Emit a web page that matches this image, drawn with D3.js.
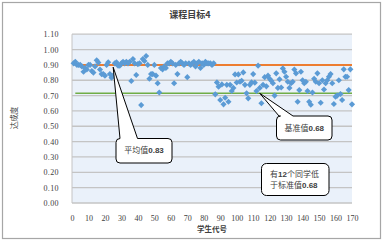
<!DOCTYPE html>
<html><head><meta charset="utf-8">
<script src="https://cdn.jsdelivr.net/npm/d3@7"></script>
<style>
html,body{margin:0;padding:0;background:#fff;}
svg{display:block;}
</style></head>
<body>
<svg id="c" width="383" height="242"></svg>
<script>
// ---- data ----
const title = "课程目标4";
const xTitle = "学生代号";
const yTitle = "达成度";
const students = d3.range(1, 171);
const scores = [
0.91,0.92,0.90,0.90,0.90,0.89,0.855,0.88,0.87,0.90,
0.90,0.86,0.85,0.89,0.93,0.915,0.87,0.84,0.84,0.83,
0.90,0.917,0.84,0.816,0.83,0.91,0.917,0.895,0.895,0.91,
0.92,0.91,0.92,0.91,0.92,0.795,0.938,0.91,0.834,0.905,
0.91,0.638,0.938,0.925,0.958,0.90,0.81,0.84,0.84,0.90,
0.83,0.78,0.72,0.88,0.87,0.89,0.88,0.91,0.91,0.92,
0.91,0.78,0.90,0.84,0.91,0.92,0.91,0.90,0.91,0.82,
0.91,0.90,0.91,0.92,0.89,0.91,0.92,0.88,0.91,0.90,
0.92,0.91,0.91,0.91,0.90,0.91,0.708,0.786,0.758,0.671,
0.773,0.643,0.686,0.77,0.66,0.77,0.73,0.75,0.838,0.785,
0.838,0.79,0.797,0.851,0.77,0.715,0.682,0.77,0.786,0.84,
0.784,0.73,0.895,0.75,0.65,0.77,0.82,0.76,0.83,0.81,
0.797,0.78,0.70,0.845,0.75,0.806,0.753,0.877,0.855,0.823,
0.79,0.75,0.78,0.79,0.87,0.845,0.66,0.736,0.855,0.80,
0.78,0.79,0.73,0.66,0.64,0.72,0.81,0.79,0.845,0.78,
0.653,0.80,0.74,0.78,0.80,0.823,0.84,0.78,0.645,0.693,
0.70,0.80,0.71,0.671,0.871,0.823,0.823,0.736,0.871,0.643
];
const refX = [2, 170];
const avgLineValue = 0.90;
const baseLineValue = 0.715;
const xTicks = d3.range(0, 171, 10);
const yTicks = [0,0.1,0.2,0.3,0.4,0.5,0.6,0.7,0.8,0.9,1.0,1.1];
const note1 = ["平均值", "0.83"];
const note2 = ["基准值", "0.68"];
const note3a = ["有", "12", "个同学低"];
const note3b = ["于标准值", "0.68"];

// ---- chart ----
const svg = d3.select("#c");
const x = d3.scaleLinear([0, 170], [72, 352]);
const y = d3.scaleLinear([0, 1.1], [203, 34.2]);

svg.append("rect").attr("x", 2.5).attr("y", 2.5).attr("width", 378).attr("height", 236)
  .attr("fill", "#fff").attr("stroke", "#A6A6A6").attr("stroke-width", 1.2);

svg.append("rect").attr("x", x(0)).attr("y", y(1.1)).attr("width", x(170) - x(0)).attr("height", y(0) - y(1.1))
  .attr("fill", "#EAF1FA");

svg.append("g").selectAll("line").data(yTicks).join("line")
  .attr("x1", x(0)).attr("x2", x(170)).attr("y1", d => y(d)).attr("y2", d => y(d))
  .attr("stroke", "#C4C4C4").attr("stroke-width", 1.3);
svg.append("line").attr("x1", x(0)).attr("x2", x(0)).attr("y1", y(0)).attr("y2", y(1.1))
  .attr("stroke", "#C4C4C4").attr("stroke-width", 1);

const yAxis = svg.append("g").attr("transform", `translate(${x(0) - 10},0)`)
  .call(d3.axisLeft(y).tickValues(yTicks).tickFormat(d3.format(".2f")).tickSize(0));
yAxis.select(".domain").remove();
yAxis.selectAll("text").attr("font-family", "Liberation Serif, DejaVu Serif, serif")
  .attr("font-size", 8).attr("fill", "#404040").attr("letter-spacing", "0.4px");

const xAxis = svg.append("g").attr("transform", `translate(0,${y(0) + 9})`)
  .call(d3.axisBottom(x).tickValues(xTicks).tickFormat(d3.format("d")).tickSize(0));
xAxis.select(".domain").remove();
xAxis.selectAll("text").attr("font-family", "Liberation Serif, DejaVu Serif, serif")
  .attr("font-size", 8).attr("fill", "#404040");

// reference lines
const line = d3.line().x(d => x(d[0])).y(d => y(d[1]));
svg.append("path").attr("d", line(refX.map(v => [v, avgLineValue])))
  .attr("stroke", "#ED7D31").attr("stroke-width", 2).attr("fill", "none");
svg.append("path").attr("d", line(refX.map(v => [v, baseLineValue])))
  .attr("stroke", "#70AD47").attr("stroke-width", 1.6).attr("fill", "none");

// points
const sym = d3.symbol().type(d3.symbolDiamond2).size(24);
svg.append("g").selectAll("path").data(students).join("path")
  .attr("transform", (d, i) => `translate(${x(d)},${y(scores[i])})`)
  .attr("d", sym).attr("fill", "#5B9BD5");

// titles
svg.append("text").attr("x", 190).attr("y", 17.5).attr("text-anchor", "middle")
  .attr("font-family", "Noto Sans CJK SC, sans-serif").attr("font-weight", "bold")
  .attr("font-size", 9).attr("fill", "#404040").text(title);
svg.append("text").attr("transform", `translate(17,118) rotate(-90)`).attr("text-anchor", "middle")
  .attr("font-family", "Noto Sans CJK SC, sans-serif").attr("font-size", 7.5).attr("fill", "#404040").text(yTitle);
svg.append("text").attr("x", 212).attr("y", 232).attr("text-anchor", "middle")
  .attr("font-family", "Noto Sans CJK SC, sans-serif").attr("font-weight", "bold")
  .attr("font-size", 7.5).attr("fill", "#404040").text(xTitle);

// callouts
function callout(bx, by, bw, bh, r, wedge) {
  const p = d3.path();
  p.moveTo(bx + r, by);
  if (wedge) { p.lineTo(wedge.b1, by); p.lineTo(wedge.tx, wedge.ty); p.lineTo(wedge.b2, by); }
  p.lineTo(bx + bw - r, by);
  p.arcTo(bx + bw, by, bx + bw, by + r, r);
  p.lineTo(bx + bw, by + bh - r);
  p.arcTo(bx + bw, by + bh, bx + bw - r, by + bh, r);
  p.lineTo(bx + r, by + bh);
  p.arcTo(bx, by + bh, bx, by + bh - r, r);
  p.lineTo(bx, by + r);
  p.arcTo(bx, by, bx + r, by, r);
  p.closePath();
  svg.append("path").attr("d", p.toString()).attr("fill", "#fff")
    .attr("stroke", "#000").attr("stroke-width", 1).attr("stroke-linejoin", "round");
}
function label(tx, ty, parts, anchor) {
  const t = svg.append("text").attr("x", tx).attr("y", ty).attr("text-anchor", anchor)
    .attr("font-size", 8).attr("fill", "#404040");
  parts.forEach(s => {
    const num = /^[0-9.]+$/.test(s);
    t.append("tspan").attr("font-family", num ? "Liberation Sans, sans-serif" : "Noto Sans CJK SC, sans-serif")
      .attr("font-weight", num ? "bold" : "normal").text(s);
  });
}
callout(116, 138.5, 56, 24.5, 4, {b1: 120, b2: 137.5, tx: x(25), ty: y(0.885)});
label(144, 152.5, note1, "middle");
callout(276.5, 116, 55.5, 24, 4, {b1: 279, b2: 293, tx: x(114), ty: y(baseLineValue)});
label(304.3, 131, note2, "middle");
callout(261.5, 163.5, 67.5, 32, 5, null);
label(270, 177, note3a, "start");
label(270, 188, note3b, "start");
</script>
</body></html>
